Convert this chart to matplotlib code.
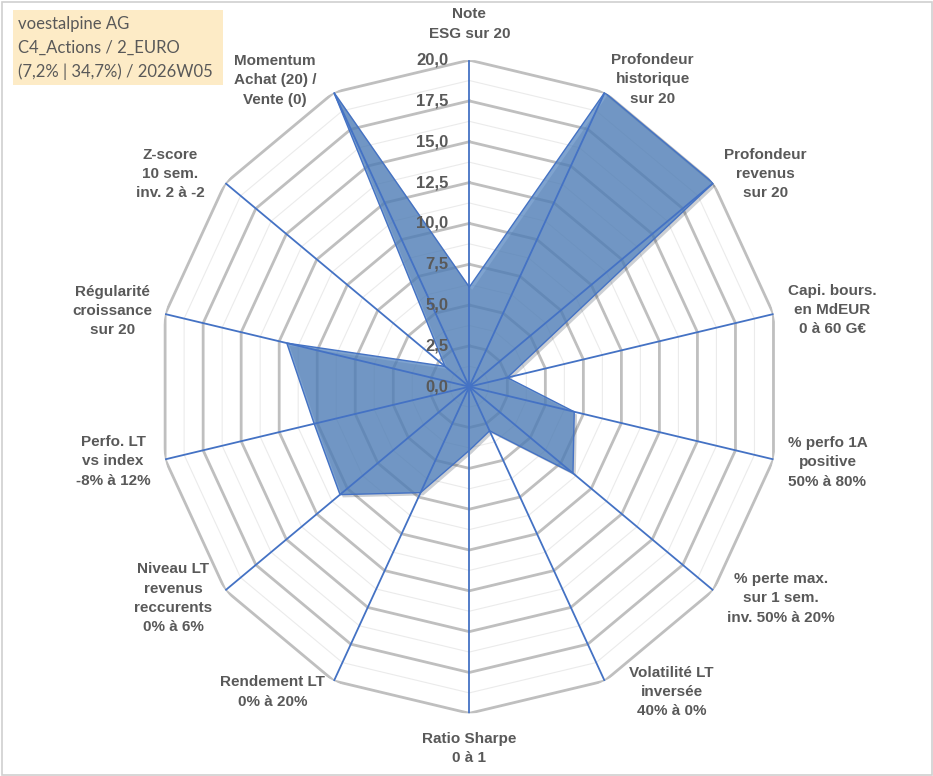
import numpy as np
import matplotlib
matplotlib.use("Agg")
import matplotlib.pyplot as plt
from matplotlib.patches import Rectangle
import matplotlib.patheffects as pe

# ---------------- data ----------------
categories = [
    "Note\nESG sur 20",
    "Profondeur\nhistorique\nsur 20",
    "Profondeur\nrevenus\nsur 20",
    "Capi. bours.\nen MdEUR\n0 à 60 G€",
    "% perfo 1A\npositive\n50% à 80%",
    "% perte max.\nsur 1 sem.\ninv. 50% à 20%",
    "Volatilité LT\ninversée\n40% à 0%",
    "Ratio Sharpe\n0 à 1",
    "Rendement LT\n0% à 20%",
    "Niveau LT\nrevenus\nreccurents\n0% à 6%",
    "Perfo. LT\nvs index\n-8% à 12%",
    "Régularité\ncroissance\nsur 20",
    "Z-score\n10 sem.\ninv. 2 à -2",
    "Momentum\nAchat (20) /\nVente (0)",
]
values = [6.1, 20.0, 20.0, 2.5, 6.9, 8.5, 3.0, 3.9, 7.2, 10.6, 10.2, 12.0, 2.0, 20.0]
tick_values = [0.0, 2.5, 5.0, 7.5, 10.0, 12.5, 15.0, 17.5, 20.0]
tick_labels = ["0,0", "2,5", "5,0", "7,5", "10,0", "12,5", "15,0", "17,5", "20,0"]
minor_values = [1.25, 3.75, 6.25, 8.75, 11.25, 13.75, 16.25, 18.75]
title_lines = ["voestalpine AG", "C4_Actions / 2_EURO", "(7,2% | 34,7%) / 2026W05"]

# label offsets in pixels from the outer vertex (layout only)
label_offsets = [(0, 36), (48, 13), (52, 9), (59, 4), (54, -3), (68, -8), (67, -11),
                 (0, -35), (-61, -11), (-52, -8), (-52, -2), (-53, 3), (-55, 9), (-59, 12)]

# ---------------- figure ----------------
W, H = 933, 776
fig = plt.figure(figsize=(W / 100, H / 100), dpi=100)
fig.patch.set_facecolor("white")

cx, cy = 469.3, 386.7
rx, ry = 312.0, 326.6
ax = fig.add_axes([(cx - rx) / W, (H - cy - ry) / H, 2 * rx / W, 2 * ry / H], projection="polar")
ax.set_aspect("auto")
ax.set_theta_zero_location("N")
ax.set_theta_direction(-1)
ax.set_ylim(0, 20)
ax.grid(False)
ax.set_xticks([])
ax.set_yticks([])
ax.spines["polar"].set_visible(False)
ax.patch.set_alpha(0)

n = len(categories)
theta = np.arange(n) * 2 * np.pi / n
theta_c = np.append(theta, theta[0])

grey_txt = "#595959"

for r in minor_values:
    ax.plot(theta_c, [r] * (n + 1), color="#EBEBEB", lw=0.8, zorder=1)
for r in tick_values[1:]:
    ax.plot(theta_c, [r] * (n + 1), color="#BFBFBF", lw=2.0, zorder=2,
            solid_joinstyle="miter")

vals_c = np.append(values, values[0])
ax.fill(theta_c, vals_c, facecolor="#5283BF", alpha=0.74, zorder=3,
        path_effects=[pe.SimplePatchShadow(offset=(2, -2), alpha=0.22), pe.Normal()])
ax.plot(theta_c, vals_c, color="#4472C4", lw=1.0, zorder=4)

for t in theta:
    ax.plot([t, t], [0, 20], color="#4472C4", lw=1.3, zorder=5)

for v, lab in zip(tick_values, tick_labels):
    ax.annotate(lab, xy=(0, v), xytext=(-21, 0), textcoords="offset pixels",
                ha="right", va="center", fontsize=12, fontweight="bold",
                color=grey_txt, family="Liberation Sans", annotation_clip=False, zorder=6)

for t, lab, (dx, dy) in zip(theta, categories, label_offsets):
    ax.annotate(lab, xy=(t, 20), xytext=(dx, dy), textcoords="offset pixels",
                ha="center", va="center", multialignment="center",
                fontsize=11, fontweight="bold", color=grey_txt,
                family="Liberation Sans", linespacing=1.48, annotation_clip=False)

fig.patches.append(Rectangle((13 / W, 1 - 85 / H), 210 / W, 75 / H, transform=fig.transFigure,
                             facecolor="#FDEBC6", edgecolor="none", zorder=0))
for i, line in enumerate(title_lines):
    fig.text(18 / W, 1 - (24 + 24 * i) / H, line, ha="left", va="center",
             fontsize=12, color=grey_txt, family="Lato")

fig.patches.append(Rectangle((1.5 / W, 1.5 / H), (W - 3) / W, (H - 3) / H, transform=fig.transFigure,
                             facecolor="none", edgecolor="#D0D0D0", lw=1.2))

fig.savefig("out.png", dpi=100)
